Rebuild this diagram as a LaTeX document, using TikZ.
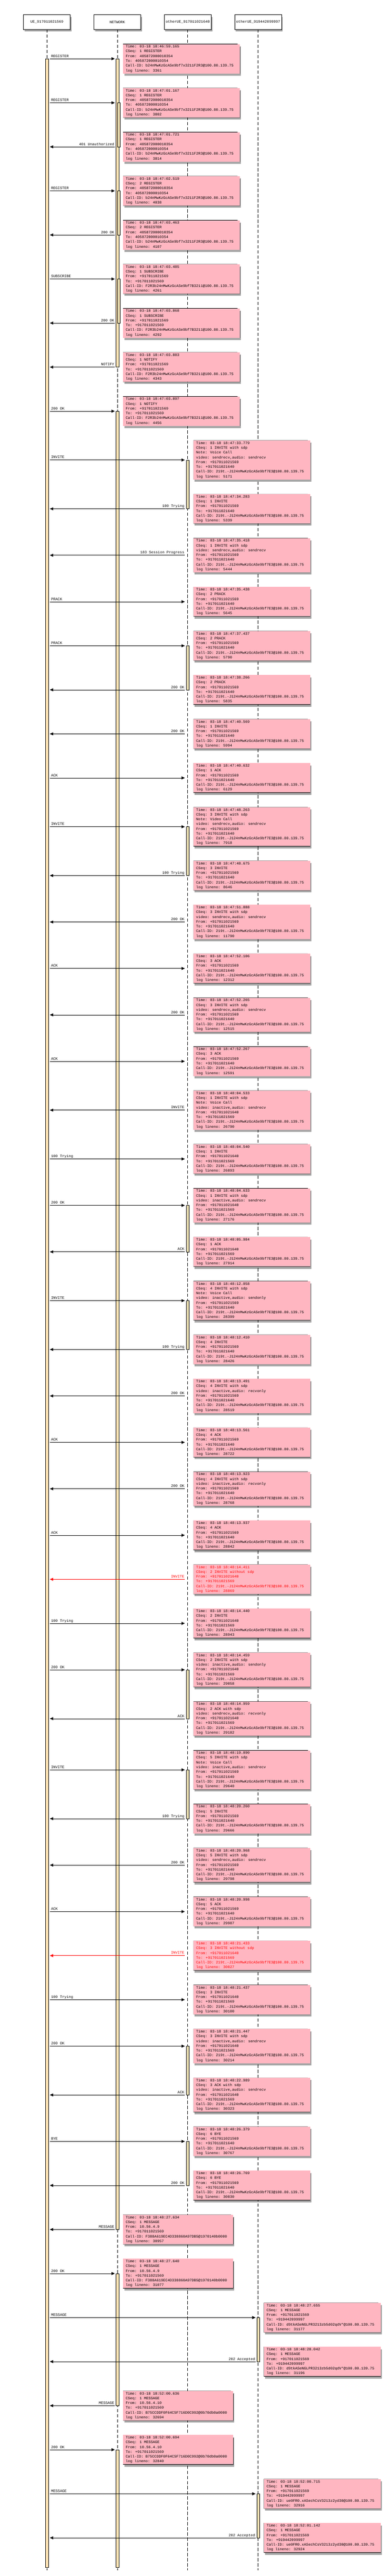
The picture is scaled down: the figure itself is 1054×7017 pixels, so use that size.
\documentclass[tikz,border=0pt]{standalone}
\usepackage{fontspec}
\newfontfamily\seqfont{Liberation Mono}
\usepackage{tikz}
\usetikzlibrary{arrows.meta,shadows,fit}
\definecolor{notepink}{HTML}{FFB6C1}
\definecolor{barbeige}{HTML}{FFE4B5}
\newcommand{\logrows}[1]{\begin{tabular}{@{}l@{\hspace{10pt}}}#1\end{tabular}}
\tikzstyle{actor} = [rectangle, draw, fill=white, line width=1pt, minimum width=128pt, minimum height=40pt, inner sep=0pt, outer sep=0pt, font=\seqfont\fontsize{10pt}{13pt}\selectfont, drop shadow={shadow xshift=3pt, shadow yshift=-6pt, fill=black, opacity=0.35}]
\tikzstyle{note} = [rectangle, fill=notepink, anchor=north west, yshift=-40pt, inner xsep=7pt, inner ysep=1pt, outer sep=0pt, font=\seqfont\fontsize{10pt}{13pt}\selectfont, drop shadow={shadow xshift=3pt, shadow yshift=-6pt, fill=black, opacity=0.35}, append after command={\pgfextra{
  \fill [white] ([xshift=-7pt, yshift=1pt]\tikzlastnode.north east) -- ([xshift=1pt, yshift=1pt]\tikzlastnode.north east) -- ([xshift=1pt, yshift=-8pt]\tikzlastnode.north east) -- cycle;
  \draw [black, line width=1pt] (\tikzlastnode.north west) -- ([xshift=-7pt]\tikzlastnode.north east) -- ([yshift=-8pt]\tikzlastnode.north east) -- (\tikzlastnode.south east) -- (\tikzlastnode.south west) -- cycle;
  \draw [black, line width=1pt] ([xshift=-7pt]\tikzlastnode.north east) |- ([yshift=-8pt]\tikzlastnode.north east);}}]
\tikzstyle{activation} = [rectangle, draw, fill=barbeige, line width=0.8pt, inner xsep=4pt, inner ysep=0pt, outer sep=0pt]
\tikzstyle{lifeline} = [draw, line width=1pt, dash pattern=on 9pt off 5pt]
\tikzstyle{line} = [draw, line width=1pt, -{Triangle[length=9pt, width=8pt]}]
\tikzstyle{rlabel} = [pos=0, anchor=base west, xshift=3pt, yshift=4pt, inner sep=0pt, font=\seqfont\fontsize{10pt}{13pt}\selectfont]
\tikzstyle{llabel} = [pos=0, anchor=base east, xshift=-1pt, yshift=4pt, inner sep=0pt, font=\seqfont\fontsize{10pt}{13pt}\selectfont]

\begin{document}
\begin{tikzpicture} [x=1pt, y=-1pt]
\path [use as bounding box, fill=white] (0,0) rectangle (1054,7017);
% Place nodes
\node [actor] (ue) at (128,60) {UE\_917011021569};
\node [actor] (net) at (320,60) {NETWORK};
\node [actor] (oue) at (512,60) {otherUE\_917011021640};
\node [actor] (pue) at (704,60) {otherUE\_919442099997};
\coordinate (ua) at (136,0);
\coordinate (na) at (313,0);
\coordinate (oa) at (504,0);
\coordinate (pa) at (697,0);
\coordinate (nc) at (336,0);
\coordinate (oc) at (528,0);
\coordinate (pc) at (720,0);
\coordinate (netin) at (324,0);
\coordinate (lineend) at (0,7001);
\path [lifeline] (ue.south) -- (ue.south |- lineend);
\path [lifeline] (net.south) -- (net.south |- lineend);
\path [lifeline] (oue.south) -- (oue.south |- lineend);
\path [lifeline] (pue.south) -- (pue.south |- lineend);
\node [note] (n1) at (nc |- net.south) {\logrows{Time: 03-18 18:46:59.165\\CSeq: 1 REGISTER\\From: 405872000010354\\To: 405872000010354\\Call-ID: b24nMwKzGcASe9bf7x3211F2R3@100.80.139.75\\log lineno: 3361}};
\node [note] (n2) at (nc |- n1.south) {\logrows{Time: 03-18 18:47:01.167\\CSeq: 1 REGISTER\\From: 405872000010354\\To: 405872000010354\\Call-ID: b24nMwKzGcASe9bf7x3211F2R3@100.80.139.75\\log lineno: 3802}};
\node [note] (n3) at (nc |- n2.south) {\logrows{Time: 03-18 18:47:01.721\\CSeq: 1 REGISTER\\From: 405872000010354\\To: 405872000010354\\Call-ID: b24nMwKzGcASe9bf7x3211F2R3@100.80.139.75\\log lineno: 3814}};
\node [note] (n4) at (nc |- n3.south) {\logrows{Time: 03-18 18:47:02.519\\CSeq: 2 REGISTER\\From: 405872000010354\\To: 405872000010354\\Call-ID: b24nMwKzGcASe9bf7x3211F2R3@100.80.139.75\\log lineno: 4038}};
\node [note] (n5) at (nc |- n4.south) {\logrows{Time: 03-18 18:47:03.463\\CSeq: 2 REGISTER\\From: 405872000010354\\To: 405872000010354\\Call-ID: b24nMwKzGcASe9bf7x3211F2R3@100.80.139.75\\log lineno: 4107}};
\node [note] (n6) at (nc |- n5.south) {\logrows{Time: 03-18 18:47:03.485\\CSeq: 1 SUBSCRIBE\\From: +917011021569\\To: +917011021569\\Call-ID: F2R3b24nMwKzGcASe9bf7B3211@100.80.139.75\\log lineno: 4261}};
\node [note] (n7) at (nc |- n6.south) {\logrows{Time: 03-18 18:47:03.868\\CSeq: 1 SUBSCRIBE\\From: +917011021569\\To: +917011021569\\Call-ID: F2R3b24nMwKzGcASe9bf7B3211@100.80.139.75\\log lineno: 4292}};
\node [note] (n8) at (nc |- n7.south) {\logrows{Time: 03-18 18:47:03.883\\CSeq: 1 NOTIFY\\From: +917011021569\\To: +917011021569\\Call-ID: F2R3b24nMwKzGcASe9bf7B3211@100.80.139.75\\log lineno: 4343}};
\node [note] (n9) at (nc |- n8.south) {\logrows{Time: 03-18 18:47:03.897\\CSeq: 1 NOTIFY\\From: +917011021569\\To: +917011021569\\Call-ID: F2R3b24nMwKzGcASe9bf7B3211@100.80.139.75\\log lineno: 4456}};
\node [note] (n10) at (oc |- n9.south) {\logrows{Time: 03-18 18:47:33.779\\CSeq: 1 INVITE with sdp\\Note: Voice Call\\video: sendrecv,audio: sendrecv\\From: +917011021569\\To: +917011021640\\Call-ID: 219t.-J124nMwKzGcASe9bf7E3@100.80.139.75\\log lineno: 5171}};
\node [note] (n11) at (oc |- n10.south) {\logrows{Time: 03-18 18:47:34.283\\CSeq: 1 INVITE\\From: +917011021569\\To: +917011021640\\Call-ID: 219t.-J124nMwKzGcASe9bf7E3@100.80.139.75\\log lineno: 5339}};
\node [note] (n12) at (oc |- n11.south) {\logrows{Time: 03-18 18:47:35.418\\CSeq: 1 INVITE with sdp\\video: sendrecv,audio: sendrecv\\From: +917011021569\\To: +917011021640\\Call-ID: 219t.-J124nMwKzGcASe9bf7E3@100.80.139.75\\log lineno: 5444}};
\node [note] (n13) at (oc |- n12.south) {\logrows{Time: 03-18 18:47:35.438\\CSeq: 2 PRACK\\From: +917011021569\\To: +917011021640\\Call-ID: 219t.-J124nMwKzGcASe9bf7E3@100.80.139.75\\log lineno: 5645}};
\node [note] (n14) at (oc |- n13.south) {\logrows{Time: 03-18 18:47:37.437\\CSeq: 2 PRACK\\From: +917011021569\\To: +917011021640\\Call-ID: 219t.-J124nMwKzGcASe9bf7E3@100.80.139.75\\log lineno: 5790}};
\node [note] (n15) at (oc |- n14.south) {\logrows{Time: 03-18 18:47:38.266\\CSeq: 2 PRACK\\From: +917011021569\\To: +917011021640\\Call-ID: 219t.-J124nMwKzGcASe9bf7E3@100.80.139.75\\log lineno: 5835}};
\node [note] (n16) at (oc |- n15.south) {\logrows{Time: 03-18 18:47:40.569\\CSeq: 1 INVITE\\From: +917011021569\\To: +917011021640\\Call-ID: 219t.-J124nMwKzGcASe9bf7E3@100.80.139.75\\log lineno: 5994}};
\node [note] (n17) at (oc |- n16.south) {\logrows{Time: 03-18 18:47:40.632\\CSeq: 1 ACK\\From: +917011021569\\To: +917011021640\\Call-ID: 219t.-J124nMwKzGcASe9bf7E3@100.80.139.75\\log lineno: 6129}};
\node [note] (n18) at (oc |- n17.south) {\logrows{Time: 03-18 18:47:48.263\\CSeq: 3 INVITE with sdp\\Note: Video Call\\video: sendrecv,audio: sendrecv\\From: +917011021569\\To: +917011021640\\Call-ID: 219t.-J124nMwKzGcASe9bf7E3@100.80.139.75\\log lineno: 7918}};
\node [note] (n19) at (oc |- n18.south) {\logrows{Time: 03-18 18:47:48.675\\CSeq: 3 INVITE\\From: +917011021569\\To: +917011021640\\Call-ID: 219t.-J124nMwKzGcASe9bf7E3@100.80.139.75\\log lineno: 8646}};
\node [note] (n20) at (oc |- n19.south) {\logrows{Time: 03-18 18:47:51.888\\CSeq: 3 INVITE with sdp\\video: sendrecv,audio: sendrecv\\From: +917011021569\\To: +917011021640\\Call-ID: 219t.-J124nMwKzGcASe9bf7E3@100.80.139.75\\log lineno: 11790}};
\node [note] (n21) at (oc |- n20.south) {\logrows{Time: 03-18 18:47:52.106\\CSeq: 3 ACK\\From: +917011021569\\To: +917011021640\\Call-ID: 219t.-J124nMwKzGcASe9bf7E3@100.80.139.75\\log lineno: 12312}};
\node [note] (n22) at (oc |- n21.south) {\logrows{Time: 03-18 18:47:52.265\\CSeq: 3 INVITE with sdp\\video: sendrecv,audio: sendrecv\\From: +917011021569\\To: +917011021640\\Call-ID: 219t.-J124nMwKzGcASe9bf7E3@100.80.139.75\\log lineno: 12515}};
\node [note] (n23) at (oc |- n22.south) {\logrows{Time: 03-18 18:47:52.267\\CSeq: 3 ACK\\From: +917011021569\\To: +917011021640\\Call-ID: 219t.-J124nMwKzGcASe9bf7E3@100.80.139.75\\log lineno: 12591}};
\node [note] (n24) at (oc |- n23.south) {\logrows{Time: 03-18 18:48:04.533\\CSeq: 1 INVITE with sdp\\Note: Voice Call\\video: inactive,audio: sendrecv\\From: +917011021640\\To: +917011021569\\Call-ID: 219t.-J124nMwKzGcASe9bf7E3@100.80.139.75\\log lineno: 26790}};
\node [note] (n25) at (oc |- n24.south) {\logrows{Time: 03-18 18:48:04.540\\CSeq: 1 INVITE\\From: +917011021640\\To: +917011021569\\Call-ID: 219t.-J124nMwKzGcASe9bf7E3@100.80.139.75\\log lineno: 26893}};
\node [note] (n26) at (oc |- n25.south) {\logrows{Time: 03-18 18:48:04.633\\CSeq: 1 INVITE with sdp\\video: inactive,audio: sendrecv\\From: +917011021640\\To: +917011021569\\Call-ID: 219t.-J124nMwKzGcASe9bf7E3@100.80.139.75\\log lineno: 27176}};
\node [note] (n27) at (oc |- n26.south) {\logrows{Time: 03-18 18:48:05.984\\CSeq: 1 ACK\\From: +917011021640\\To: +917011021569\\Call-ID: 219t.-J124nMwKzGcASe9bf7E3@100.80.139.75\\log lineno: 27914}};
\node [note] (n28) at (oc |- n27.south) {\logrows{Time: 03-18 18:48:12.058\\CSeq: 4 INVITE with sdp\\Note: Voice Call\\video: inactive,audio: sendonly\\From: +917011021569\\To: +917011021640\\Call-ID: 219t.-J124nMwKzGcASe9bf7E3@100.80.139.75\\log lineno: 28399}};
\node [note] (n29) at (oc |- n28.south) {\logrows{Time: 03-18 18:48:12.410\\CSeq: 4 INVITE\\From: +917011021569\\To: +917011021640\\Call-ID: 219t.-J124nMwKzGcASe9bf7E3@100.80.139.75\\log lineno: 28426}};
\node [note] (n30) at (oc |- n29.south) {\logrows{Time: 03-18 18:48:13.491\\CSeq: 4 INVITE with sdp\\video: inactive,audio: recvonly\\From: +917011021569\\To: +917011021640\\Call-ID: 219t.-J124nMwKzGcASe9bf7E3@100.80.139.75\\log lineno: 28519}};
\node [note] (n31) at (oc |- n30.south) {\logrows{Time: 03-18 18:48:13.561\\CSeq: 4 ACK\\From: +917011021569\\To: +917011021640\\Call-ID: 219t.-J124nMwKzGcASe9bf7E3@100.80.139.75\\log lineno: 28722}};
\node [note] (n32) at (oc |- n31.south) {\logrows{Time: 03-18 18:48:13.923\\CSeq: 4 INVITE with sdp\\video: inactive,audio: recvonly\\From: +917011021569\\To: +917011021640\\Call-ID: 219t.-J124nMwKzGcASe9bf7E3@100.80.139.75\\log lineno: 28768}};
\node [note] (n33) at (oc |- n32.south) {\logrows{Time: 03-18 18:48:13.937\\CSeq: 4 ACK\\From: +917011021569\\To: +917011021640\\Call-ID: 219t.-J124nMwKzGcASe9bf7E3@100.80.139.75\\log lineno: 28842}};
\node [note, text=red] (n34) at (oc |- n33.south) {\logrows{Time: 03-18 18:48:14.411\\CSeq: 2 INVITE without sdp\\From: +917011021640\\To: +917011021569\\Call-ID: 219t.-J124nMwKzGcASe9bf7E3@100.80.139.75\\log lineno: 28869}};
\node [note] (n35) at (oc |- n34.south) {\logrows{Time: 03-18 18:48:14.440\\CSeq: 2 INVITE\\From: +917011021640\\To: +917011021569\\Call-ID: 219t.-J124nMwKzGcASe9bf7E3@100.80.139.75\\log lineno: 28943}};
\node [note] (n36) at (oc |- n35.south) {\logrows{Time: 03-18 18:48:14.459\\CSeq: 2 INVITE with sdp\\video: inactive,audio: sendonly\\From: +917011021640\\To: +917011021569\\Call-ID: 219t.-J124nMwKzGcASe9bf7E3@100.80.139.75\\log lineno: 29058}};
\node [note] (n37) at (oc |- n36.south) {\logrows{Time: 03-18 18:48:14.959\\CSeq: 2 ACK with sdp\\video: sendrecv,audio: recvonly\\From: +917011021640\\To: +917011021569\\Call-ID: 219t.-J124nMwKzGcASe9bf7E3@100.80.139.75\\log lineno: 29182}};
\node [note] (n38) at (oc |- n37.south) {\logrows{Time: 03-18 18:48:19.890\\CSeq: 5 INVITE with sdp\\Note: Voice Call\\video: inactive,audio: sendrecv\\From: +917011021569\\To: +917011021640\\Call-ID: 219t.-J124nMwKzGcASe9bf7E3@100.80.139.75\\log lineno: 29640}};
\node [note] (n39) at (oc |- n38.south) {\logrows{Time: 03-18 18:48:20.260\\CSeq: 5 INVITE\\From: +917011021569\\To: +917011021640\\Call-ID: 219t.-J124nMwKzGcASe9bf7E3@100.80.139.75\\log lineno: 29666}};
\node [note] (n40) at (oc |- n39.south) {\logrows{Time: 03-18 18:48:20.968\\CSeq: 5 INVITE with sdp\\video: sendrecv,audio: sendrecv\\From: +917011021569\\To: +917011021640\\Call-ID: 219t.-J124nMwKzGcASe9bf7E3@100.80.139.75\\log lineno: 29798}};
\node [note] (n41) at (oc |- n40.south) {\logrows{Time: 03-18 18:48:20.998\\CSeq: 5 ACK\\From: +917011021569\\To: +917011021640\\Call-ID: 219t.-J124nMwKzGcASe9bf7E3@100.80.139.75\\log lineno: 29987}};
\node [note, text=red] (n42) at (oc |- n41.south) {\logrows{Time: 03-18 18:48:21.433\\CSeq: 3 INVITE without sdp\\From: +917011021640\\To: +917011021569\\Call-ID: 219t.-J124nMwKzGcASe9bf7E3@100.80.139.75\\log lineno: 30027}};
\node [note] (n43) at (oc |- n42.south) {\logrows{Time: 03-18 18:48:21.437\\CSeq: 3 INVITE\\From: +917011021640\\To: +917011021569\\Call-ID: 219t.-J124nMwKzGcASe9bf7E3@100.80.139.75\\log lineno: 30100}};
\node [note] (n44) at (oc |- n43.south) {\logrows{Time: 03-18 18:48:21.447\\CSeq: 3 INVITE with sdp\\video: inactive,audio: sendrecv\\From: +917011021640\\To: +917011021569\\Call-ID: 219t.-J124nMwKzGcASe9bf7E3@100.80.139.75\\log lineno: 30214}};
\node [note] (n45) at (oc |- n44.south) {\logrows{Time: 03-18 18:48:22.989\\CSeq: 3 ACK with sdp\\video: inactive,audio: sendrecv\\From: +917011021640\\To: +917011021569\\Call-ID: 219t.-J124nMwKzGcASe9bf7E3@100.80.139.75\\log lineno: 30323}};
\node [note] (n46) at (oc |- n45.south) {\logrows{Time: 03-18 18:48:26.379\\CSeq: 6 BYE\\From: +917011021569\\To: +917011021640\\Call-ID: 219t.-J124nMwKzGcASe9bf7E3@100.80.139.75\\log lineno: 30767}};
\node [note] (n47) at (oc |- n46.south) {\logrows{Time: 03-18 18:48:26.769\\CSeq: 6 BYE\\From: +917011021569\\To: +917011021640\\Call-ID: 219t.-J124nMwKzGcASe9bf7E3@100.80.139.75\\log lineno: 30830}};
\node [note] (n48) at (nc |- n47.south) {\logrows{Time: 03-18 18:48:27.634\\CSeq: 1 MESSAGE\\From: 10.56.4.9\\To: +917011021569\\Call-ID: F388A619EC4D338860A97DB5@1970140b0000\\log lineno: 30957}};
\node [note] (n49) at (nc |- n48.south) {\logrows{Time: 03-18 18:48:27.640\\CSeq: 1 MESSAGE\\From: 10.56.4.9\\To: +917011021569\\Call-ID: F388A619EC4D338860A97DB5@1970140b0000\\log lineno: 31077}};
\node [note] (n50) at (pc |- n49.south) {\logrows{Time: 03-18 18:48:27.655\\CSeq: 1 MESSAGE\\From: +917011021569\\To: +919442099997\\Call-ID: d9tkASeNGLPR3213zb5d02qdV*@100.80.139.75\\log lineno: 31177}};
\node [note] (n51) at (pc |- n50.south) {\logrows{Time: 03-18 18:48:28.042\\CSeq: 1 MESSAGE\\From: +917011021569\\To: +919442099997\\Call-ID: d9tkASeNGLPR3213zb5d02qdV*@100.80.139.75\\log lineno: 31196}};
\node [note] (n52) at (nc |- n51.south) {\logrows{Time: 03-18 18:52:00.636\\CSeq: 1 MESSAGE\\From: 10.56.4.10\\To: +917011021569\\Call-ID: B75CCDDF0F64C5F716D0C992@0b70db0a0000\\log lineno: 32694}};
\node [note] (n53) at (nc |- n52.south) {\logrows{Time: 03-18 18:52:00.694\\CSeq: 1 MESSAGE\\From: 10.56.4.10\\To: +917011021569\\Call-ID: B75CCDDF0F64C5F716D0C992@0b70db0a0000\\log lineno: 32840}};
\node [note] (n54) at (pc |- n53.south) {\logrows{Time: 03-18 18:52:00.715\\CSeq: 1 MESSAGE\\From: +917011021569\\To: +919442099997\\Call-ID: ue0FR0.xASechCsV3213z2yd30@100.80.139.75\\log lineno: 32916}};
\node [note] (n55) at (pc |- n54.south) {\logrows{Time: 03-18 18:52:01.142\\CSeq: 1 MESSAGE\\From: +917011021569\\To: +919442099997\\Call-ID: ue0FR0.xASechCsV3213z2yd30@100.80.139.75\\log lineno: 32924}};
\coordinate [yshift=-40pt] (barend) at (n55.south);
% Activation bars
\node [activation, fit=(ue |- n1.west) (ue |- barend)] (uebar) {};
\node [activation, fit=(net |- n1.west) (net |- n8.west)] (netbar1) {};
\node [activation, fit=(netin |- n2.west) (netin |- n3.west)] (netsub1) {};
\node [activation, fit=(netin |- n4.west) (netin |- n5.west)] (netsub2) {};
\node [activation, fit=(netin |- n6.west) (netin |- n7.west)] (netsub3) {};
\node [activation, fit=(net |- n9.west) (net |- n48.west)] (netbar2) {};
\node [activation, fit=(net |- n49.west) (net |- n52.west)] (netbar3) {};
\node [activation, fit=(net |- n53.west) (net |- barend)] (netbar4) {};
\node [activation, fit=(oue |- n10.west) (oue |- n11.west)] (ouebar1) {};
\node [activation, fit=(oue |- n14.west) (oue |- n15.west)] (ouebar2) {};
\node [activation, fit=(oue |- n18.west) (oue |- n19.west)] (ouebar3) {};
\node [activation, fit=(oue |- n26.west) (oue |- n27.west)] (ouebar4) {};
\node [activation, fit=(oue |- n28.west) (oue |- n29.west)] (ouebar5) {};
\node [activation, fit=(oue |- n36.west) (oue |- n37.west)] (ouebar6) {};
\node [activation, fit=(oue |- n38.west) (oue |- n39.west)] (ouebar7) {};
\node [activation, fit=(oue |- n44.west) (oue |- n45.west)] (ouebar8) {};
\node [activation, fit=(oue |- n46.west) (oue |- n47.west)] (ouebar9) {};
\node [activation, fit=(pue |- n50.west) (pue |- n51.west)] (puebar1) {};
\node [activation, fit=(pue |- n54.west) (pue |- n55.west)] (puebar2) {};
% Draw edges
\path [line] (ua |- n1.west) -- node [rlabel] {REGISTER} (na |- n1.west);
\path [line] (ua |- n2.west) -- node [rlabel] {REGISTER} (na |- n2.west);
\path [line] (na |- n3.west) -- node [llabel] {401 Unauthorized} (ua |- n3.west);
\path [line] (ua |- n4.west) -- node [rlabel] {REGISTER} (na |- n4.west);
\path [line] (na |- n5.west) -- node [llabel] {200 OK} (ua |- n5.west);
\path [line] (ua |- n6.west) -- node [rlabel] {SUBSCRIBE} (na |- n6.west);
\path [line] (na |- n7.west) -- node [llabel] {200 OK} (ua |- n7.west);
\path [line] (na |- n8.west) -- node [llabel] {NOTIFY} (ua |- n8.west);
\path [line] (ua |- n9.west) -- node [rlabel] {200 OK} (na |- n9.west);
\path [line] (ua |- n10.west) -- node [rlabel] {INVITE} (oa |- n10.west);
\path [line] (oa |- n11.west) -- node [llabel] {100 Trying} (ua |- n11.west);
\path [line] (oa |- n12.west) -- node [llabel] {183 Session Progress} (ua |- n12.west);
\path [line] (ua |- n13.west) -- node [rlabel] {PRACK} (oa |- n13.west);
\path [line] (ua |- n14.west) -- node [rlabel] {PRACK} (oa |- n14.west);
\path [line] (oa |- n15.west) -- node [llabel] {200 OK} (ua |- n15.west);
\path [line] (oa |- n16.west) -- node [llabel] {200 OK} (ua |- n16.west);
\path [line] (ua |- n17.west) -- node [rlabel] {ACK} (oa |- n17.west);
\path [line] (ua |- n18.west) -- node [rlabel] {INVITE} (oa |- n18.west);
\path [line] (oa |- n19.west) -- node [llabel] {100 Trying} (ua |- n19.west);
\path [line] (oa |- n20.west) -- node [llabel] {200 OK} (ua |- n20.west);
\path [line] (ua |- n21.west) -- node [rlabel] {ACK} (oa |- n21.west);
\path [line] (oa |- n22.west) -- node [llabel] {200 OK} (ua |- n22.west);
\path [line] (ua |- n23.west) -- node [rlabel] {ACK} (oa |- n23.west);
\path [line] (oa |- n24.west) -- node [llabel] {INVITE} (ua |- n24.west);
\path [line] (ua |- n25.west) -- node [rlabel] {100 Trying} (oa |- n25.west);
\path [line] (ua |- n26.west) -- node [rlabel] {200 OK} (oa |- n26.west);
\path [line] (oa |- n27.west) -- node [llabel] {ACK} (ua |- n27.west);
\path [line] (ua |- n28.west) -- node [rlabel] {INVITE} (oa |- n28.west);
\path [line] (oa |- n29.west) -- node [llabel] {100 Trying} (ua |- n29.west);
\path [line] (oa |- n30.west) -- node [llabel] {200 OK} (ua |- n30.west);
\path [line] (ua |- n31.west) -- node [rlabel] {ACK} (oa |- n31.west);
\path [line] (oa |- n32.west) -- node [llabel] {200 OK} (ua |- n32.west);
\path [line] (ua |- n33.west) -- node [rlabel] {ACK} (oa |- n33.west);
\path [line, red] (oa |- n34.west) -- node [llabel] {INVITE} (ua |- n34.west);
\path [line] (ua |- n35.west) -- node [rlabel] {100 Trying} (oa |- n35.west);
\path [line] (ua |- n36.west) -- node [rlabel] {200 OK} (oa |- n36.west);
\path [line] (oa |- n37.west) -- node [llabel] {ACK} (ua |- n37.west);
\path [line] (ua |- n38.west) -- node [rlabel] {INVITE} (oa |- n38.west);
\path [line] (oa |- n39.west) -- node [llabel] {100 Trying} (ua |- n39.west);
\path [line] (oa |- n40.west) -- node [llabel] {200 OK} (ua |- n40.west);
\path [line] (ua |- n41.west) -- node [rlabel] {ACK} (oa |- n41.west);
\path [line, red] (oa |- n42.west) -- node [llabel] {INVITE} (ua |- n42.west);
\path [line] (ua |- n43.west) -- node [rlabel] {100 Trying} (oa |- n43.west);
\path [line] (ua |- n44.west) -- node [rlabel] {200 OK} (oa |- n44.west);
\path [line] (oa |- n45.west) -- node [llabel] {ACK} (ua |- n45.west);
\path [line] (ua |- n46.west) -- node [rlabel] {BYE} (oa |- n46.west);
\path [line] (oa |- n47.west) -- node [llabel] {200 OK} (ua |- n47.west);
\path [line] (na |- n48.west) -- node [llabel] {MESSAGE} (ua |- n48.west);
\path [line] (ua |- n49.west) -- node [rlabel] {200 OK} (na |- n49.west);
\path [line] (ua |- n50.west) -- node [rlabel] {MESSAGE} (pa |- n50.west);
\path [line] (pa |- n51.west) -- node [llabel] {202 Accepted} (ua |- n51.west);
\path [line] (na |- n52.west) -- node [llabel] {MESSAGE} (ua |- n52.west);
\path [line] (ua |- n53.west) -- node [rlabel] {200 OK} (na |- n53.west);
\path [line] (ua |- n54.west) -- node [rlabel] {MESSAGE} (pa |- n54.west);
\path [line] (pa |- n55.west) -- node [llabel] {202 Accepted} (ua |- n55.west);

\end{tikzpicture}
\end{document}
